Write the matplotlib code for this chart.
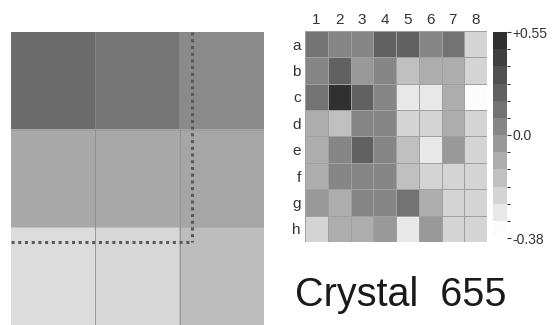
import matplotlib.pyplot as plt
import numpy as np
from matplotlib.colors import ListedColormap, BoundaryNorm

plt.rcParams['font.family'] = ['Liberation Sans', 'DejaVu Sans']

# left panel: zoomed 3x3 block, gray level (0 black, 1 white)
zoom_gray = [
    [0.42, 0.46, 0.54],
    [0.66, 0.66, 0.65],
    [0.86, 0.84, 0.74],
]

# right panel: 8x8 crystal map
col_labels = ["1", "2", "3", "4", "5", "6", "7", "8"]
row_labels = ["a", "b", "c", "d", "e", "f", "g", "h"]
cell_values = [
    [0.12, 0.08, 0.08, 0.24, 0.26, 0.08, 0.12, -0.22],
    [0.08, 0.24, -0.02, 0.04, -0.14, -0.12, -0.10, -0.20],
    [0.12, 0.50, 0.24, 0.08, -0.28, -0.26, -0.12, -0.37],
    [-0.10, -0.14, 0.08, 0.08, -0.24, -0.24, -0.12, -0.22],
    [-0.10, 0.08, 0.24, 0.04, -0.14, -0.26, -0.06, -0.22],
    [-0.10, 0.08, 0.04, 0.08, -0.14, -0.24, -0.22, -0.22],
    [-0.06, -0.12, 0.08, 0.08, 0.12, -0.12, -0.24, -0.24],
    [-0.24, -0.10, -0.12, -0.02, -0.28, -0.06, -0.24, -0.22],
]
vmin, vmax = -0.38, 0.55
cbar_ticks = [0.55, 0.0, -0.38]
cbar_ticklabels = ["+0.55", "0.0", "-0.38"]
title = "Crystal  655"

fig = plt.figure(figsize=(5.56, 3.25), dpi=100)

# left zoom panel
ax1 = fig.add_axes([11 / 556, 0, 253 / 556, 293 / 325])
ax1.imshow(np.array(zoom_gray), cmap="gray", vmin=0, vmax=1,
           aspect="auto", extent=(0, 3, 3, 0))
for k in [1, 2]:
    ax1.axvline(k, color="#8a8a8a", lw=0.7, alpha=0.8)
    ax1.axhline(k, color="#8a8a8a", lw=0.6, alpha=0.4)
ax1.plot([2.15, 2.15], [0, 2.15], color="#5a5a5a", lw=2.2, ls=(0, (1, 1.2)))
ax1.plot([0, 2.15], [2.15, 2.15], color="#5a5a5a", lw=2.2, ls=(0, (1, 1.2)))
ax1.set_xlim(0, 3)
ax1.set_ylim(3, 0)
ax1.axis("off")

# discrete gray colormap, 6 bands each side of zero
n_band = 6
levels = np.concatenate([np.linspace(vmin, 0, n_band + 1),
                         np.linspace(0, vmax, n_band + 1)[1:]])
s = np.linspace(0, 1, 2 * n_band)
grays = 0.19 + 0.80 * (1 - s) ** 1.1
cmap = ListedColormap([(g, g, g) for g in grays])
norm = BoundaryNorm(levels, cmap.N)

ax2 = fig.add_axes([305 / 556, 1 - 242 / 325, 182 / 556, 211 / 325])
ax2.pcolormesh(np.array(cell_values), cmap=cmap, norm=norm,
               edgecolors="#a0a0a0", linewidth=0.5)
ax2.set_xlim(0, 8)
ax2.set_ylim(8, 0)
ax2.set_xticks(np.arange(8) + 0.5)
ax2.set_xticklabels(col_labels)
ax2.set_yticks(np.arange(8) + 0.5)
ax2.set_yticklabels(row_labels)
ax2.xaxis.tick_top()
ax2.tick_params(length=0, labelsize=11, pad=3, colors="#333333")
for sp in ax2.spines.values():
    sp.set_visible(False)

cax = fig.add_axes([493 / 556, 1 - 238 / 325, 14 / 556, 206 / 325])
sm = plt.cm.ScalarMappable(norm=norm, cmap=cmap)
cb = fig.colorbar(sm, cax=cax, ticks=cbar_ticks)
cb.set_ticklabels(cbar_ticklabels)
cb.outline.set_visible(False)
cax.tick_params(length=3, width=0.8, labelsize=10, pad=1, colors="#333333")

fig.text(295 / 556, 1 - 306 / 325, title, fontsize=28.5, color="#1a1a1a",
         ha="left", va="baseline")

fig.savefig("out.png", dpi=100)
